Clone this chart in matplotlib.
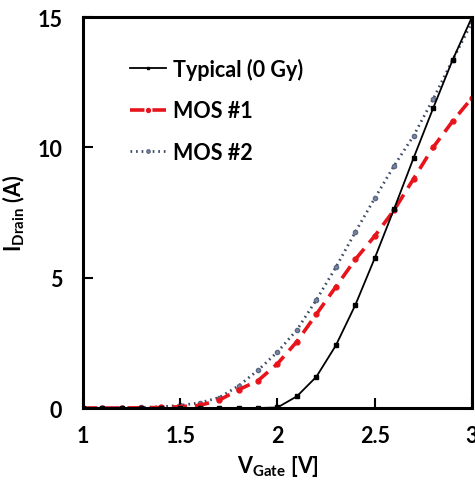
import numpy as np
import matplotlib
matplotlib.use("Agg")
import matplotlib.pyplot as plt

plt.rcParams["font.family"] = ["Lato", "DejaVu Sans"]
plt.rcParams["font.weight"] = "bold"
plt.rcParams["mathtext.fontset"] = "custom"
plt.rcParams["mathtext.rm"] = "Lato:bold"
plt.rcParams["mathtext.it"] = "Lato:bold"
plt.rcParams["mathtext.bf"] = "Lato:bold"

# gate voltage sweep (V)
v_gate = [1.0, 1.1, 1.2, 1.3, 1.4, 1.5, 1.6, 1.7, 1.8, 1.9, 2.0,
          2.1, 2.2, 2.3, 2.4, 2.5, 2.6, 2.7, 2.8, 2.9, 3.0]

# drain current (A)
i_typical = [0, 0, 0, 0, 0, 0, 0, 0, 0, 0, 0.02,
             0.45, 1.2, 2.4, 3.95, 5.75, 7.65, 9.6, 11.5, 13.35, 15.0]
i_mos1 = [0, 0, 0, 0.01, 0.02, 0.05, 0.1, 0.3, 0.7, 1.05, 1.7,
          2.55, 3.6, 4.65, 5.7, 6.6, 7.6, 8.8, 10.0, 11.0, 11.9]
i_mos2 = [0, 0, 0, 0.02, 0.05, 0.1, 0.2, 0.4, 0.85, 1.45, 2.15,
          3.0, 4.15, 5.4, 6.75, 8.05, 9.3, 10.45, 11.85, 13.35, 14.8]

labels = ["Typical (0 Gy)", "MOS #1", "MOS #2"]

fig = plt.figure(figsize=(4.75, 4.85), dpi=100)
ax = fig.add_axes([0.1747, 0.1567, 0.819, 0.806])

ax.plot(v_gate, i_typical, color="black", lw=1.3, marker="s", ms=2.2,
        label=labels[0], zorder=3)
ax.plot(v_gate, i_mos1, color="#e8141c", lw=2.6, ls=(0, (4, 2.2)), marker="o",
        ms=3.5, label=labels[1], zorder=2)
ax.plot(v_gate, i_mos2, color="#3c4a66", lw=2.0, ls=(0, (0.6, 1.4)),
        marker="o", ms=3.0, mfc="#7f8ba3", mec="#5a6885", label=labels[2],
        zorder=1)

ax.set_xlim(1, 3)
ax.set_ylim(0, 15)
ax.set_xticks([1, 1.5, 2, 2.5, 3])
ax.set_xticklabels(["1", "1.5", "2", "2.5", "3"])
ax.set_yticks([0, 5, 10, 15])

for s in ax.spines.values():
    s.set_linewidth(2.2)
ax.tick_params(direction="in", length=7, width=1.5, labelsize=15.5)
ax.tick_params(axis="x", pad=12)
ax.tick_params(axis="y", pad=15)

ax.set_xlabel(r"V$_{\mathregular{Gate}}$ [V]", fontsize=15.5, fontweight="bold",
              labelpad=5)
ax.set_ylabel(r"I$_{\mathregular{Drain}}$ (A)", fontsize=15.5, fontweight="bold",
              labelpad=7)

leg = ax.legend(loc="upper left", bbox_to_anchor=(0.07, 0.945), frameon=False,
                fontsize=15.5, handlelength=1.7, handletextpad=0.3,
                labelspacing=0.95, markerscale=0.8)

fig.savefig("out.png", dpi=100)
